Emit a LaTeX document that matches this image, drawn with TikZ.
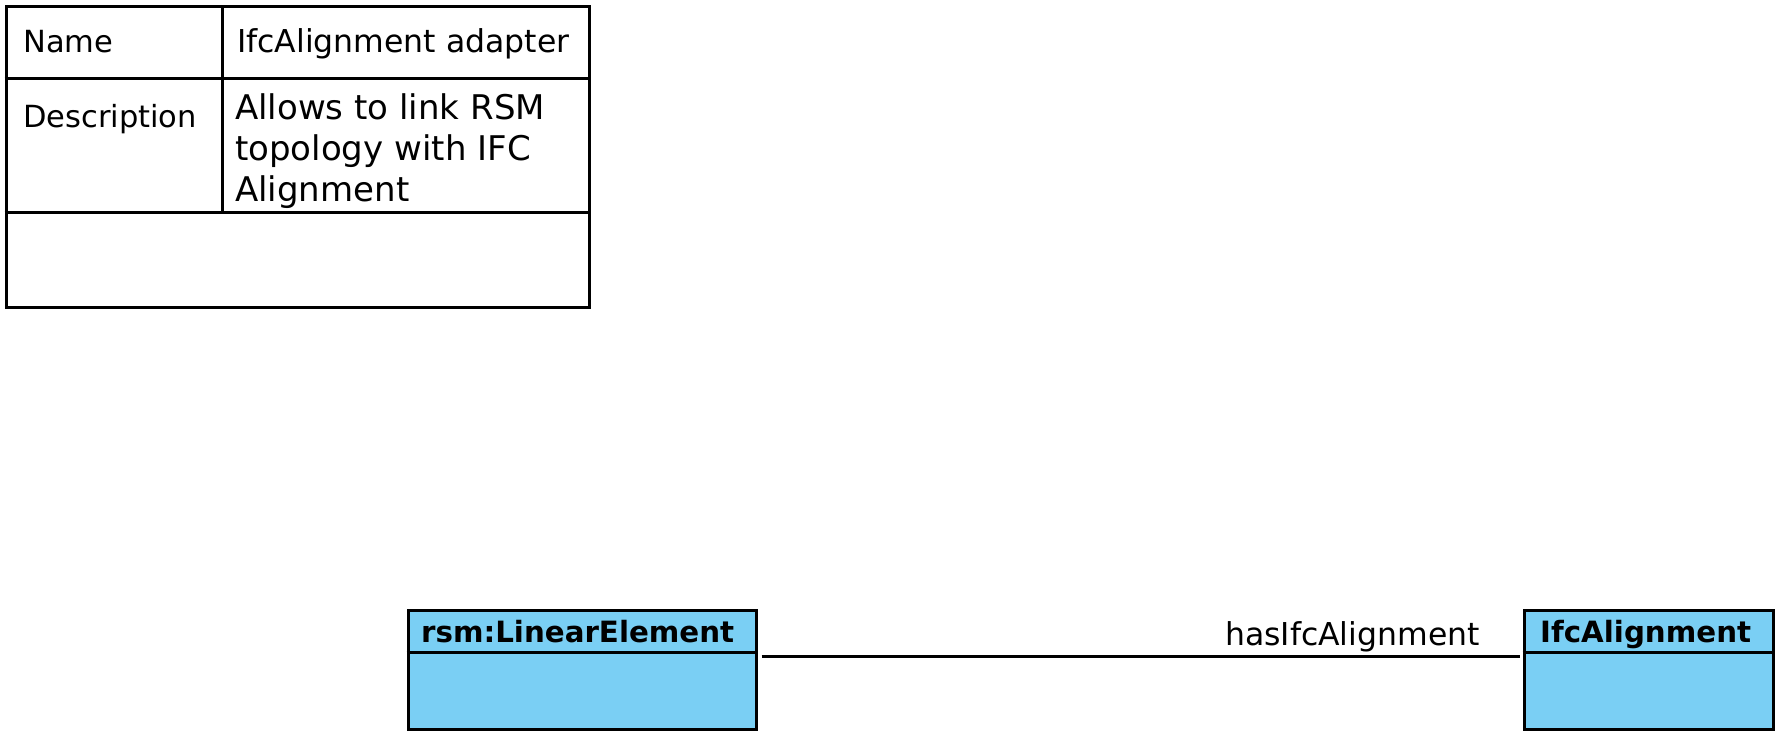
\documentclass[tikz,border=0pt]{standalone}
\usepackage{fontspec}
\setmainfont{DejaVu Sans}
\definecolor{clsfill}{HTML}{7ACFF4}
\tikzset{
  x=1pt, y=-1pt,
  frame/.style={draw=black, line width=3pt},
  cls/.style={draw=black, line width=3pt, fill=clsfill, rectangle, inner sep=0pt},
  celltext/.style={anchor=base west, inner sep=0pt, font=\fontsize{30.5}{36}\selectfont},
  valtext/.style={anchor=base west, inner sep=0pt, font=\fontsize{31.5}{36}\selectfont},
  desctext/.style={anchor=base west, inner sep=0pt, align=left, font=\fontsize{34}{41}\selectfont},
  clstext/.style={anchor=base west, inner sep=0pt, font=\fontsize{29.3}{34}\selectfont\bfseries},
  conn/.style={draw=black, line width=3pt},
  lbl/.style={anchor=base east, inner sep=0pt, font=\fontsize{31.5}{36}\selectfont}
}
\begin{document}
\begin{tikzpicture}
\useasboundingbox (0,0) rectangle (1785,741);
% info table
\node[frame, rectangle, inner sep=0pt, minimum width=583pt, minimum height=300pt] (tbl) at (297.5,157) {};
\draw[frame] (tbl.west |- 0,79) -- (tbl.east |- 0,79);
\draw[frame] (tbl.west |- 0,212) -- (tbl.east |- 0,212);
\draw[frame] (222,0 |- tbl.north) -- (222,212);
\node[celltext] (nameK) at (23,53) {Name};
\node[valtext] (nameV) at (237,53) {IfcAlignment adapter};
\node[celltext] (descK) at (23,128) {Description};
\node[desctext] (descV) at (235,201) {Allows to link RSM\\topology with IFC\\Alignment};
% class boxes
\node[cls, minimum width=348pt, minimum height=119pt] (le) at (582,669.5) {};
\draw[frame] (le.west |- 0,652) -- (le.east |- 0,652);
\node[clstext] (leT) at (421,642) {rsm:LinearElement};
\node[cls, minimum width=249pt, minimum height=119pt] (ifc) at (1648.5,669.5) {};
\draw[frame] (ifc.west |- 0,652) -- (ifc.east |- 0,652);
\node[clstext] (ifcT) at (1540,642) {IfcAlignment};
% association
\draw[conn] ([xshift=4pt,yshift=-48pt]le.north east) -- ([xshift=-3pt,yshift=-48pt]ifc.north west);
\node[lbl] (assoc) at (1480,645) {hasIfcAlignment};
\end{tikzpicture}
\end{document}
